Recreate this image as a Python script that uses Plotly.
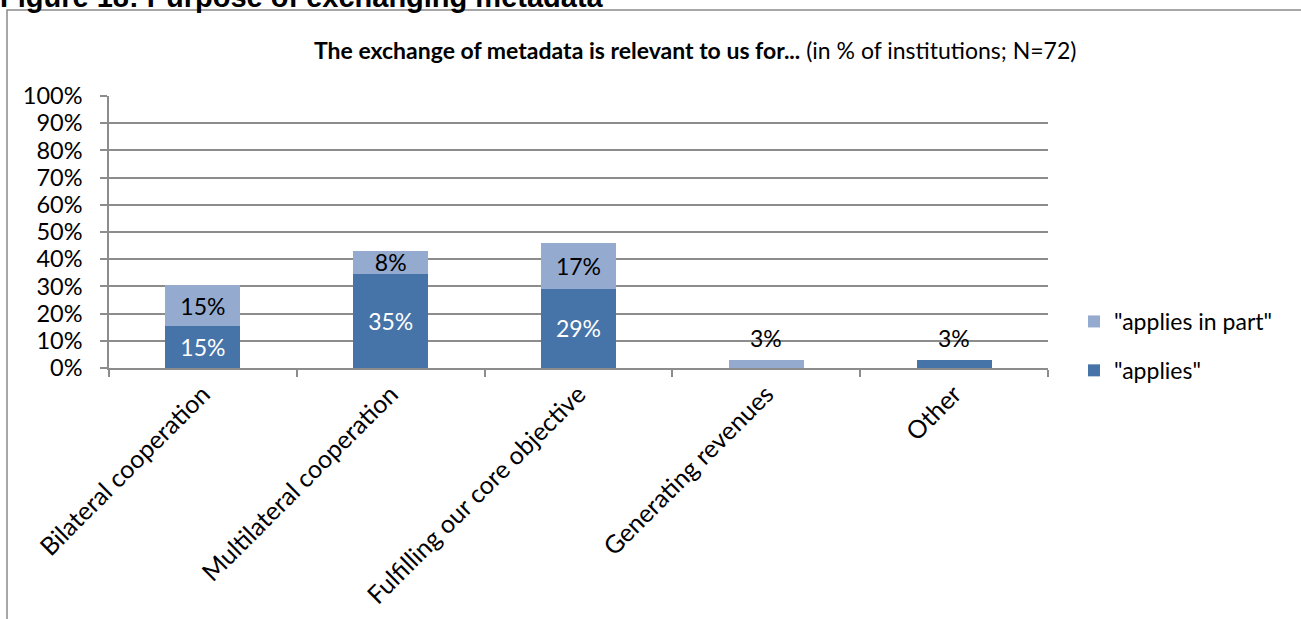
import plotly.graph_objects as go

# Survey results: share of institutions (N=72) per purpose
categories = [
    "Bilateral cooperation",
    "Multilateral cooperation",
    "Fulfilling our core objective",
    "Generating revenues",
    "Other",
]
applies = [15.28, 34.72, 29.17, None, 2.78]
applies_in_part = [15.28, 8.33, 16.67, 2.78, None]

W, H = 1301, 619
L, R, T, B = 109, 253, 96, 251
PW, PH = W - L - R, H - T - B

FONT = "Lato"
COL_APPLIES = "#4673A8"
COL_PART = "#95AACF"
GRID = "#8C8C8C"


def px(x):
    return (x - L) / PW


def py(y):
    return (H - B - y) / PH


def label(v):
    return "" if v is None else f"{v:.0f}%"


def inside_positions(vals, threshold=5):
    return ["inside" if (v is not None and v >= threshold) else "none" for v in vals]


fig = go.Figure()
fig.add_trace(go.Bar(
    name='"applies"', x=categories, y=applies,
    marker=dict(color=COL_APPLIES, line=dict(width=0)),
    text=[label(v) for v in applies], textposition=inside_positions(applies),
    insidetextanchor="middle", constraintext="none",
    insidetextfont=dict(color="white", size=23, family=FONT),
    hoverinfo="skip", legendgroup="a", legendrank=2,
))
fig.add_trace(go.Bar(
    name='"applies in part"', x=categories, y=applies_in_part,
    marker=dict(color=COL_PART, line=dict(width=0)),
    text=[label(v) for v in applies_in_part], textposition=inside_positions(applies_in_part),
    insidetextanchor="middle", constraintext="none",
    insidetextfont=dict(color="black", size=23, family=FONT),
    hoverinfo="skip", legendgroup="b", legendrank=1,
))

annotations = []
# small values get their label above the bar
for i, cat in enumerate(categories):
    a = applies[i] or 0
    p = applies_in_part[i] or 0
    for v in (applies[i], applies_in_part[i]):
        if v is not None and v < 5:
            annotations.append(dict(
                x=cat, y=a + p, xref="x", yref="y", text=label(v),
                showarrow=False, yanchor="bottom", yshift=6,
                font=dict(size=23, family=FONT, color="black"),
            ))

# chart title
annotations.append(dict(
    x=px(695), y=py(50), xref="paper", yref="paper",
    xanchor="center", yanchor="middle", showarrow=False,
    text="<b>The exchange of metadata is relevant to us for...</b> (in % of institutions; N=72)",
    font=dict(size=23, family=FONT, color="black"),
))
# figure caption
annotations.append(dict(
    x=px(-2), y=py(15), xref="paper", yref="paper",
    xanchor="left", yanchor="bottom", showarrow=False,
    text="<b>Figure 18: Purpose of exchanging metadata</b>",
    font=dict(size=29, family="Liberation Sans, Arial", color="black"),
))

shapes = [dict(
    type="rect", xref="paper", yref="paper",
    x0=px(7), x1=px(1320), y0=py(640), y1=py(10),
    line=dict(color="#8A8A8A", width=1.5), fillcolor="rgba(0,0,0,0)", layer="below",
)]

fig.update_layout(
    width=W, height=H,
    margin=dict(l=L, r=R, t=T, b=B, autoexpand=False),
    paper_bgcolor="white", plot_bgcolor="white",
    barmode="stack", bargap=0.6,
    font=dict(family=FONT, size=23, color="black"),
    showlegend=True,
    legend=dict(
        x=px(1074), y=py(300), xanchor="left", yanchor="top",
        traceorder="grouped", tracegroupgap=16,
        font=dict(size=23, family=FONT, color="black"),
        bgcolor="rgba(0,0,0,0)",
    ),
    annotations=annotations,
    shapes=shapes,
    xaxis=dict(
        type="category", tickson="boundaries", ticks="outside", ticklen=7,
        tickcolor=GRID, tickwidth=1.5, tickangle=-45, automargin=False,
        showline=True, linecolor=GRID, linewidth=1.5,
        showgrid=False, tickfont=dict(size=25, family=FONT, color="black"),
    ),
    yaxis=dict(
        range=[0, 100], dtick=10, ticksuffix="%", automargin=False,
        ticks="outside", ticklen=7, tickcolor=GRID, tickwidth=1.5,
        showline=True, linecolor=GRID, linewidth=1.5,
        showgrid=True, gridcolor=GRID, gridwidth=1.5, zeroline=False,
        tickfont=dict(size=23.5, family=FONT, color="black"),
        ticklabelstandoff=13,
    ),
)

fig.write_html("out.html")
